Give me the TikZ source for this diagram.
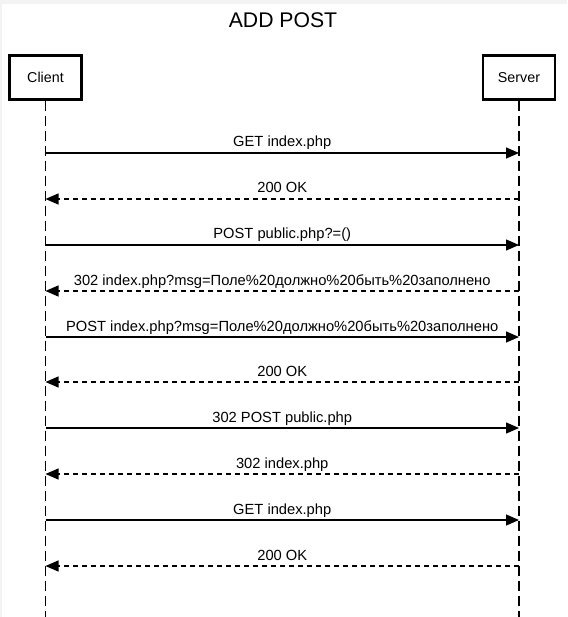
\documentclass[tikz,border=0pt]{standalone}
\usepackage{fontspec}
\setmainfont{Liberation Sans}
\usetikzlibrary{arrows.meta}
\definecolor{edge}{HTML}{F3F3F3}
\begin{document}
\begin{tikzpicture}[x=1pt,y=-1pt,
  actor/.style={draw, line width=2.4pt, minimum width=72pt, minimum height=44pt, inner sep=0pt, font=\fontsize{14.3}{16}\selectfont},
  life/.style={line width=1.2pt, dash pattern=on 10pt off 5pt},
  req/.style={line width=1.2pt, -{Triangle[length=13pt,width=11pt]}},
  resp/.style={req, dash pattern=on 5pt off 4pt},
  lbl/.style={font=\fontsize{14.7}{17}\selectfont, anchor=base, inner sep=0pt, yshift=6pt}]
\useasboundingbox (0,0) rectangle (567,617);
\fill[edge] (0,0) rectangle (567,617);
\fill[white] (2,4) rectangle (567,617);
\node[font=\fontsize{21.2}{25}\selectfont, anchor=base, inner sep=0pt] (title) at (283,28) {ADD POST};
\node[actor] (client) at (45.5,77.5) {Client};
\node[actor] (server) at (519,77.5) {Server};
\coordinate (cend) at (45.5,617);
\coordinate (send) at (519,617);
\draw[life] (client.south) -- (cend);
\draw[life] (server.south) -- (send);
\foreach \i/\y in {1/153,2/199,3/245,4/291,5/337,6/382,7/428,8/474,9/520,10/566}{
  \coordinate (c\i) at (45.5,\y);
  \coordinate (s\i) at (519,\y);
}
\draw[req] (c1) -- node[lbl] {GET index.php} (s1);
\draw[resp] (s2) -- node[lbl] {200 OK} (c2);
\draw[req] (c3) -- node[lbl] {POST public.php?=()} (s3);
\draw[resp] (s4) -- node[lbl] {302 index.php?msg=Поле\%20должно\%20быть\%20заполнено} (c4);
\draw[req] (c5) -- node[lbl] {POST index.php?msg=Поле\%20должно\%20быть\%20заполнено} (s5);
\draw[resp] (s6) -- node[lbl] {200 OK} (c6);
\draw[req] (c7) -- node[lbl] {302 POST public.php} (s7);
\draw[resp] (s8) -- node[lbl] {302 index.php} (c8);
\draw[req] (c9) -- node[lbl] {GET index.php} (s9);
\draw[resp] (s10) -- node[lbl] {200 OK} (c10);
\end{tikzpicture}
\end{document}
